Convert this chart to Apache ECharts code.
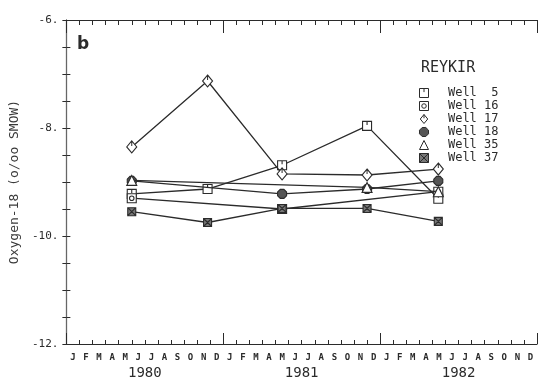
<!DOCTYPE html>
<html>
<head>
<meta charset="utf-8">
<script src="https://cdn.jsdelivr.net/npm/echarts@6/dist/echarts.min.js"></script>
<style>
  html, body { margin: 0; padding: 0; background: #fff; }
  #chart { width: 538px; height: 384px; }
</style>
</head>
<body>
<div id="chart"></div>
<script>
// ---- data ----
const monthLabels = ['J','F','M','A','M','J','J','A','S','O','N','D',
                     'J','F','M','A','M','J','J','A','S','O','N','D',
                     'J','F','M','A','M','J','J','A','S','O','N','D'];
const yearLabels = ['1980', '1981', '1982'];
// sampling dates, in months since 1 Jan 1980
const sampleDates = [5.0, 10.8, 16.5, 23.0, 28.45];
const well5  = [-9.22, -9.13, -8.69, -7.96, -9.31];
const well16 = [-9.30, null,  -9.50, null,  -9.18];
const well17 = [-8.35, -7.13, -8.85, -8.87, -8.76];
const well18 = [-8.98, null,  -9.22, -9.13, -8.98];
const well35 = [-8.97, null,  null,  -9.10, -9.18];
const well37 = [-9.55, -9.75, -9.49, -9.49, -9.73];
const wellNames = ['Well  5', 'Well 16', 'Well 17', 'Well 18', 'Well 35', 'Well 37'];
const yTickLabels = ['-12.', '-10.', '-8.', '-6.'];

// ---- styling ----
const FONT = 'DejaVu Sans Mono';
const INK = '#2b2b2b';
const symbols = [
  'path://M0,0H10V10H0Z M5,0V4',
  'path://M0,0H10V10H0Z M7.5,5A2.5,2.5,0,1,1,2.5,5A2.5,2.5,0,1,1,7.5,5Z',
  'path://M5,0L10,6L5,12L0,6Z M5,0V5',
  'path://M3,0H7L10,3V7L7,10H3L0,7V3Z',
  'triangle',
  'path://M0,0H10V10H0Z M0,0L10,10 M10,0L0,10'
];
const symbolSizes = [9, 9, [10, 12], 9, 10, 8];
const fills = ['#fff', '#fff', '#fff', '#555', '#fff', '#777'];
const wellData = [well5, well16, well17, well18, well35, well37];

function pairs(vals) {
  const out = [];
  vals.forEach((v, i) => { if (v !== null) out.push([sampleDates[i], v]); });
  return out;
}

const series = wellNames.map((name, i) => ({
  name: name,
  type: 'line',
  xAxisIndex: 0,
  yAxisIndex: 0,
  data: pairs(wellData[i]),
  symbol: symbols[i],
  symbolSize: symbolSizes[i],
  showAllSymbol: true,
  lineStyle: { color: INK, width: 1.3 },
  itemStyle: { color: fills[i], borderColor: INK, borderWidth: 1.1 },
  emphasis: { disabled: true },
  animation: false,
  z: 3 + i
}));

const gridRect = { left: 66, top: 20, width: 471, height: 324 };
const axisLine = { show: true, lineStyle: { color: INK, width: 1.2 } };

const option = {
  animation: false,
  backgroundColor: '#fff',
  grid: gridRect,
  graphic: [
    { type: 'text', left: 77, top: 36,
      style: { text: 'b', font: 'bold 17px "DejaVu Sans"', fill: INK } },
    { type: 'text', left: 421, top: 61,
      style: { text: 'REYKIR', font: '15px "DejaVu Sans Mono"', fill: INK } }
  ],
  legend: {
    orient: 'vertical',
    left: 414,
    top: 82,
    itemWidth: 9,
    itemHeight: 9,
    itemGap: 1,
    data: wellNames.map((n, i) => ({ name: n, icon: symbols[i] })),
    itemStyle: { borderWidth: 1 },
    formatter: n => '  ' + n,
    textStyle: { fontFamily: FONT, fontSize: 12, color: INK, lineHeight: 12 },
    selectedMode: false
  },
  xAxis: [
    { // data axis, bottom, month ticks
      type: 'value', min: 0, max: 36, interval: 1, position: 'bottom',
      axisLine: axisLine,
      axisTick: { show: true, inside: true, length: 4, lineStyle: { color: INK } },
      axisLabel: { show: false }, splitLine: { show: false }
    },
    { // top border with month ticks
      type: 'value', min: 0, max: 36, interval: 1, position: 'top',
      axisLine: axisLine,
      axisTick: { show: true, inside: true, length: 5, lineStyle: { color: INK } },
      axisLabel: { show: false }, splitLine: { show: false }
    },
    { // month letters
      type: 'category', data: monthLabels, position: 'bottom', boundaryGap: true,
      axisLine: { show: false }, axisTick: { show: false },
      axisLabel: { interval: 0, margin: 9, fontFamily: FONT, fontSize: 9, fontWeight: 'bold', color: INK },
      splitLine: { show: false }
    },
    { // year labels + year ticks bottom
      type: 'category', data: yearLabels, position: 'bottom', boundaryGap: true,
      axisLine: { show: false },
      axisTick: { show: true, inside: true, length: 11, lineStyle: { color: INK } },
      axisLabel: { interval: 0, margin: 22, fontFamily: FONT, fontSize: 14, color: INK },
      splitLine: { show: false }
    },
    { // year ticks top
      type: 'category', data: yearLabels, position: 'top', boundaryGap: true,
      axisLine: { show: false },
      axisTick: { show: true, inside: true, length: 13, lineStyle: { color: INK } },
      axisLabel: { show: false }, splitLine: { show: false }
    }
  ],
  yAxis: [
    {
      type: 'value', min: -12, max: -6, interval: 0.5, position: 'left',
      name: 'Oxygen-18 (o/oo SMOW)', nameLocation: 'middle', nameRotate: 90, nameGap: 44,
      nameTextStyle: { fontFamily: FONT, fontSize: 13, color: '#3a3a3a' },
      axisLine: axisLine,
      axisTick: { show: true, inside: true, length: 4, lineStyle: { color: INK } },
      axisLabel: {
        margin: 8, fontFamily: FONT, fontSize: 11, color: INK,
        formatter: v => {
          const idx = yTickLabels.findIndex(t => Math.abs(parseFloat(t) - v) < 1e-9);
          return idx >= 0 ? yTickLabels[idx] : '';
        }
      },
      splitLine: { show: false }
    },
    {
      type: 'value', min: -12, max: -6, interval: 0.5, position: 'right',
      axisLine: { show: true, lineStyle: { color: '#666', width: 1 } },
      axisTick: { show: true, inside: true, length: 4, lineStyle: { color: INK } },
      axisLabel: { show: false }, splitLine: { show: false }
    }
  ],
  series: series
};

const chart = echarts.init(document.getElementById('chart'), null, { renderer: 'canvas' });
chart.setOption(option);
</script>
</body>
</html>
